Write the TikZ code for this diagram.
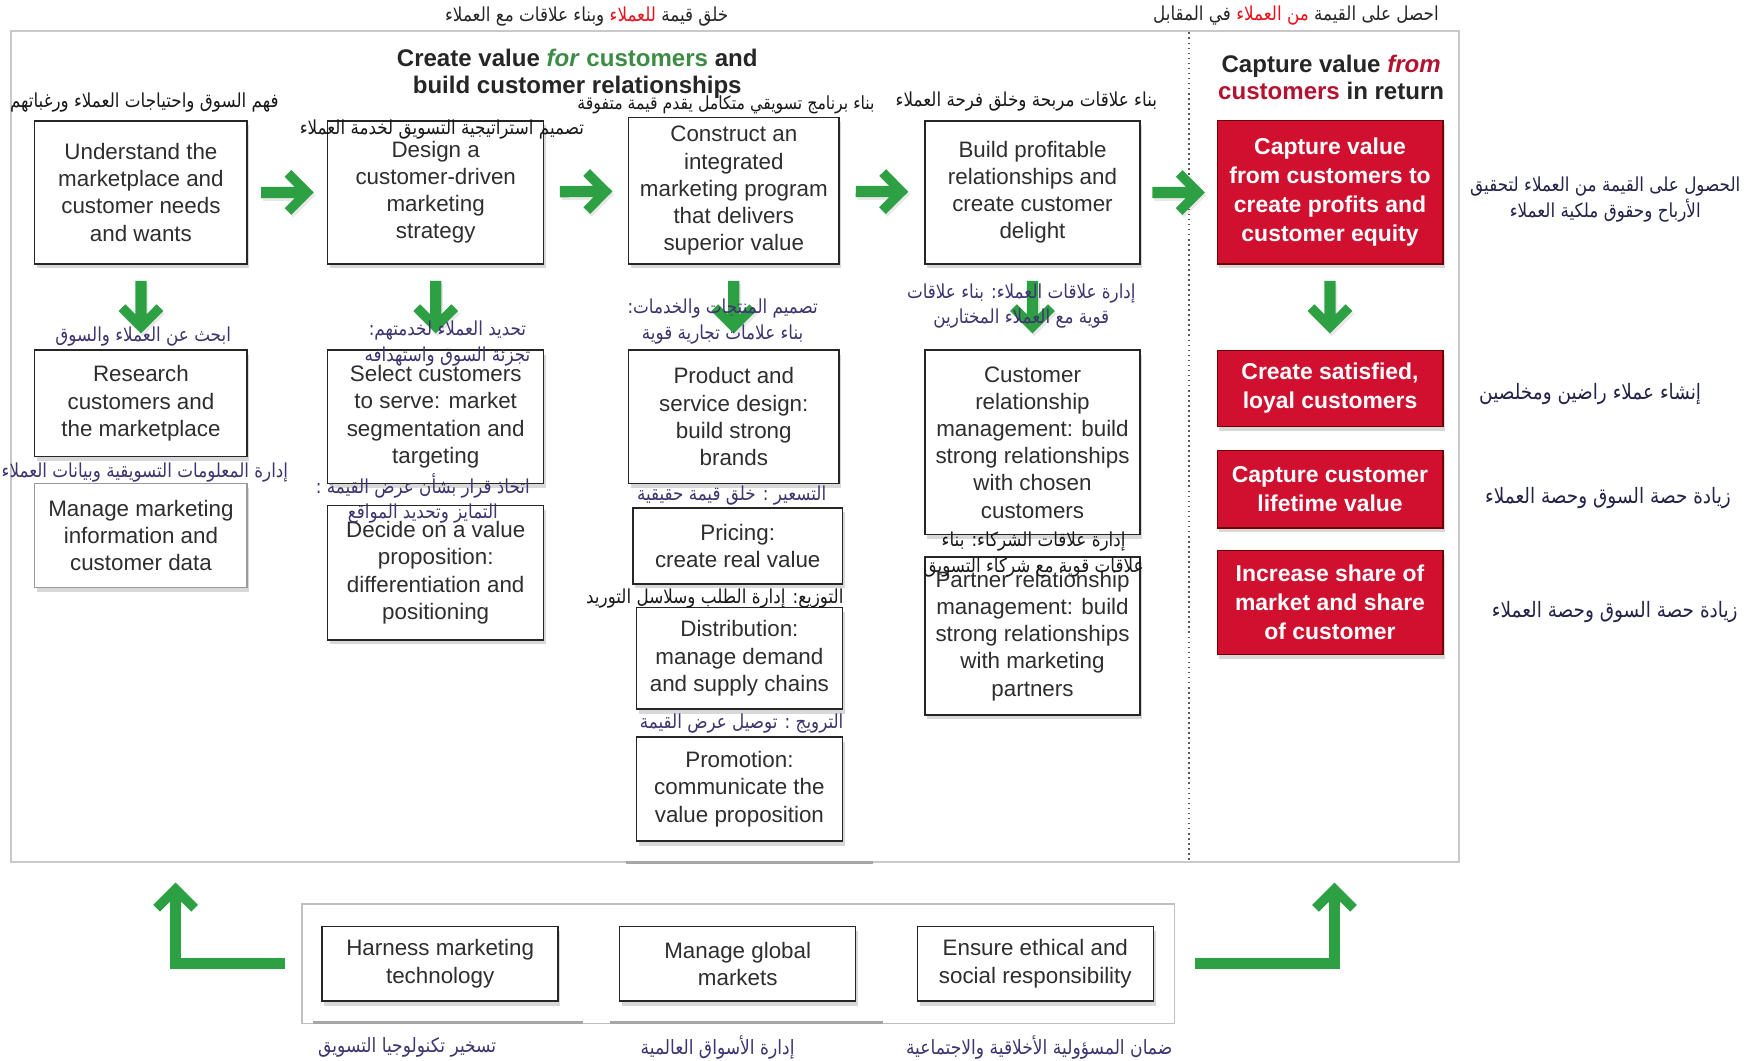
\documentclass[tikz,border=0pt]{standalone}
\usepackage{fontspec}
\usepackage{graphicx}
\setmainfont{Liberation Sans}
\newfontfamily\arabicfont[Script=Arabic]{DejaVu Sans}
\TeXXeTstate=1
\usetikzlibrary{shadows}
\newcommand{\arl}[1]{\scalebox{1}[1.15]{\beginR #1\endR}}
\definecolor{ggreen}{HTML}{2DA043}
\definecolor{tgreen}{HTML}{3C8C45}
\definecolor{tred}{HTML}{B51230}
\definecolor{boxred}{HTML}{D0102E}
\definecolor{arpurple}{HTML}{3F3470}
\definecolor{arnavy}{HTML}{22224A}
\definecolor{arred}{HTML}{E8101A}
\definecolor{framegray}{HTML}{C9C9C9}
\definecolor{txtgray}{HTML}{2E2E2E}
\tikzset{
  wbox/.style={draw=black!85, line width=1.3pt, fill=white, align=center, inner sep=0pt,
    text=txtgray, font=\fontsize{20}{24.3}\selectfont,
    drop shadow={shadow xshift=2pt, shadow yshift=-4pt, opacity=0.3}},
  rbox/.style={draw=red!45!black, line width=1pt, fill=boxred, align=center, inner sep=0pt,
    text=white, font=\bfseries\fontsize{20.5}{26}\selectfont,
    drop shadow={shadow xshift=2pt, shadow yshift=-4pt, opacity=0.3}},
  frame/.style={draw=framegray, line width=1.8pt, fill=white, inner sep=0pt},
  ttl/.style={align=center, inner sep=0pt, text=black!85, font=\bfseries\fontsize{21.5}{24}\selectfont},
  ar/.style={align=center, inner sep=0pt, text=arpurple, font=\arabicfont\fontsize{15}{23}\selectfont},
  arb/.style={ar, text=black!90},
  arr/.style={ar, text=arnavy, font=\arabicfont\fontsize{16.5}{23}\selectfont},
  gbar/.style={black!35, line width=3pt},
  gline/.style={ggreen, line width=9.5pt},
  garrow/.pic={\fill[ggreen, drop shadow={shadow xshift=1.5pt, shadow yshift=-2.5pt, opacity=.18}]
    (-23.5,5) -- (6.5,5) -- (-2.5,14) -- (3.5,20) -- (23.5,0) -- (3.5,-20) -- (-2.5,-14) -- (6.5,-5) -- (-23.5,-5) -- cycle;},
  conn/.style={pos=.5, sloped, allow upside down}
}
\begin{document}
\begin{tikzpicture}[x=1pt,y=-1pt]
\useasboundingbox[fill=white] (0,0) rectangle (1568,948);
% frames
\node[frame, minimum width=1294pt, minimum height=743pt] (fr) at (657,399.5) {};
\node[frame, draw=black!25, line width=1.3pt, minimum width=780pt, minimum height=107pt] (bf) at (660,861.5) {};
\draw[black!65, line width=1.3pt, dash pattern=on 1.5pt off 3pt] (1063,29) -- (1063,770);
\draw[gbar] (560,771) -- (780,771);
\draw[gbar] (280,914) -- (521,914);
\draw[gbar] (545,914) -- (789,914);
% top labels (pieces in visual order, left to right)
\node[arb, text=black!85] (tl1) at (524.5,15) {\arl{وبناء علاقات مع العملاء} \textcolor{arred}{\arl{للعملاء}} \arl{خلق قيمة}};
\node[arb, text=black!85] (tl2) at (1158.5,14) {\arl{في المقابل} \textcolor{arred}{\arl{من العملاء}} \arl{احصل على القيمة}};
% titles
\node[ttl] (t1) at (516,66) {Create value \textcolor{tgreen}{\textit{for} customers} and\\build customer relationships};
\node[ttl] (t2) at (1190,69.5) {Capture value \textcolor{tred}{\textit{from}}\\\textcolor{tred}{customers} in return};
% row 1
\node[wbox, minimum width=190pt, minimum height=128pt] (u1) at (126,172) {Understand the\\marketplace and\\customer needs\\and wants};
\node[wbox, minimum width=193pt, minimum height=128pt] (u2) at (389.5,172) {Design a\\customer-driven\\marketing\\strategy};
\node[wbox, minimum width=188pt, minimum height=131pt] (u3) at (656,170.5) {Construct an\\integrated\\marketing program\\that delivers\\superior value};
\node[wbox, minimum width=192pt, minimum height=128pt] (u4) at (923,172) {Build profitable\\relationships and\\create customer\\delight};
\node[rbox, minimum width=202pt, minimum height=128pt] (r1) at (1189,172) {Capture value\\from customers to\\create profits and\\customer equity};
% column 1
\node[wbox, minimum width=190pt, minimum height=95pt] (c1a) at (126,360.5) {Research\\customers and\\the marketplace};
\node[wbox, draw=black!40, minimum width=190pt, minimum height=93pt] (c1b) at (126,478.5) {Manage marketing\\information and\\customer data};
% column 2
\node[wbox, minimum width=193pt, minimum height=119pt] (c2a) at (389.5,372.5) {Select customers\\to serve: market\\segmentation and\\targeting};
\node[wbox, minimum width=193pt, minimum height=120pt] (c2b) at (389.5,512) {Decide on a value\\proposition:\\differentiation and\\positioning};
% column 3
\node[wbox, minimum width=188pt, minimum height=119pt] (c3a) at (656,372.5) {Product and\\service design:\\build strong\\brands};
\node[wbox, minimum width=187pt, minimum height=68pt] (c3b) at (659.5,488) {Pricing:\\create real value};
\node[wbox, minimum width=184pt, minimum height=91pt] (c3c) at (661,588.5) {Distribution:\\manage demand\\and supply chains};
\node[wbox, minimum width=184pt, minimum height=93pt] (c3d) at (661,705.5) {Promotion:\\communicate the\\value proposition};
% column 4
\node[wbox, minimum width=192pt, minimum height=165pt] (c4a) at (923,395.5) {Customer\\relationship\\management: build\\strong relationships\\with chosen\\customers};
\node[wbox, minimum width=192pt, minimum height=141pt] (c4b) at (923,568.5) {Partner relationship\\management: build\\strong relationships\\with marketing\\partners};
% column 5
\node[rbox, minimum width=202pt, minimum height=68pt] (c5a) at (1189,347) {Create satisfied,\\loyal customers};
\node[rbox, minimum width=202pt, minimum height=69pt] (c5b) at (1189,437.5) {Capture customer\\lifetime value};
\node[rbox, minimum width=202pt, minimum height=93pt] (c5c) at (1189,538.5) {Increase share of\\market and share\\of customer};
% bottom boxes
\node[wbox, minimum width=211pt, minimum height=67pt] (b1) at (393.5,861.5) {Harness marketing\\technology};
\node[wbox, minimum width=211pt, minimum height=67pt] (b2) at (659.5,861.5) {Manage global\\markets};
\node[wbox, minimum width=211pt, minimum height=67pt] (b3) at (925.5,861.5) {Ensure ethical and\\social responsibility};
% connectors
\path (u1) -- (u2) pic[conn] {garrow};
\path (u2) -- (u3) pic[conn] {garrow};
\path (u3) -- (u4) pic[conn] {garrow};
\path (u4) -- (r1) pic[conn] {garrow};
\path (u1) -- (c1a) pic[conn] {garrow};
\path (u2) -- (c2a) pic[conn] {garrow};
\path (u3) -- (c3a) pic[conn] {garrow};
\path (u4) -- (c4a) pic[conn] {garrow};
\path (r1) -- (c5a) pic[conn] {garrow};
% L arrows
\coordinate (lt) at (157,789);
\coordinate (rt) at (1193,789);
\draw[gline] ([xshift=-15pt]bf.west) -| ([yshift=-19pt]lt);
\draw[gline] ([xshift=18pt]bf.east) -| ([yshift=-19pt]rt);
\fill[ggreen] (lt) -- ++(20,20) -- ++(-6,6) -- ++(-9,-9) -- ++(0,5) -- ++(-10,0) -- ++(0,-5) -- ++(-9,9) -- ++(-6,-6) -- cycle;
\fill[ggreen] (rt) -- ++(20,20) -- ++(-6,6) -- ++(-9,-9) -- ++(0,5) -- ++(-10,0) -- ++(0,-5) -- ++(-9,9) -- ++(-6,-6) -- cycle;
% arabic labels
\node[arb] (l1) at (129,92) {\arl{فهم السوق واحتياجات العملاء ورغباتهم}};
\node[arb] (l2) at (395,116) {\arl{تصميم استراتيجية التسويق لخدمة العملاء}};
\node[arb, font=\arabicfont\fontsize{14.1}{23}\selectfont] (l3) at (649,94) {\arl{بناء برنامج تسويقي متكامل يقدم قيمة متفوقة}};
\node[arb] (l4) at (917.5,91) {\arl{بناء علاقات مربحة وخلق فرحة العملاء}};
\node[arr, font=\arabicfont\fontsize{15}{23}\selectfont] (l5) at (1435,178.5) {\arl{الحصول على القيمة من العملاء لتحقيق}\\\arl{الأرباح وحقوق ملكية العملاء}};
\node[ar] (l6) at (128,301) {\arl{ابحث عن العملاء والسوق}};
\node[ar] (l7) at (129.5,422) {\arl{إدارة المعلومات التسويقية وبيانات العملاء}};
\node[ar] (l8) at (400,307) {\arl{تحديد العملاء لخدمتهم:}\\\arl{تجزئة السوق واستهدافه}};
\node[ar] (l9) at (378,445.5) {\arl{اتخاذ قرار بشأن عرض القيمة :}\\\arl{التمايز وتحديد المواقع}};
\node[ar] (l10) at (646,287.5) {\arl{تصميم المنتجات والخدمات:}\\\arl{بناء علامات تجارية قوية}};
\node[ar] (l11) at (654,443) {\arl{التسعير : خلق قيمة حقيقية}};
\node[arb] (l12) at (639,535) {\arl{التوزيع: إدارة الطلب وسلاسل التوريد}};
\node[ar] (l13) at (663,647) {\arl{الترويج : توصيل عرض القيمة}};
\node[ar] (l14) at (913,273.5) {\arl{إدارة علاقات العملاء: بناء علاقات}\\\arl{قوية مع العملاء المختارين}};
\node[arb] (l15) at (924,496) {\arl{إدارة علاقات الشركاء: بناء}\\\arl{علاقات قوية مع شركاء التسويق}};
\node[arr] (l16) at (1421.5,352) {\arl{إنشاء عملاء راضين ومخلصين}};
\node[arr] (l17) at (1437.5,445) {\arl{زيادة حصة السوق وحصة العملاء}};
\node[arr] (l18) at (1443.5,547) {\arl{زيادة حصة السوق وحصة العملاء}};
\node[ar, font=\arabicfont\fontsize{15.3}{23}\selectfont] (l19) at (364,936) {\arl{تسخير تكنولوجيا التسويق}};
\node[ar, font=\arabicfont\fontsize{15.3}{23}\selectfont] (l20) at (641.5,936) {\arl{إدارة الأسواق العالمية}};
\node[ar, font=\arabicfont\fontsize{15.3}{23}\selectfont] (l21) at (929,936) {\arl{ضمان المسؤولية الأخلاقية والاجتماعية}};
\end{tikzpicture}
\end{document}
